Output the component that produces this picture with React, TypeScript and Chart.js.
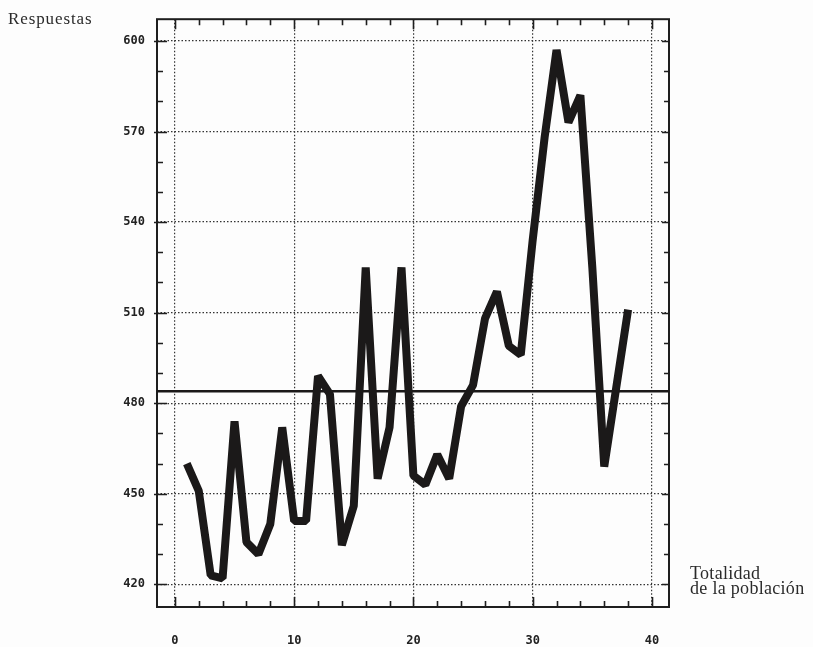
import { useEffect, useRef } from "react";
import { Chart, registerables } from "chart.js";

Chart.register(...registerables);

// Survey period index (x) and number of responses (y)
const periods = [
  1, 2, 3, 4, 5, 6, 7, 8, 9, 10, 11, 12, 13, 14, 15, 16, 17, 18, 19, 20,
  21, 22, 23, 24, 25, 26, 27, 28, 29, 30, 31, 32, 33, 34, 35, 36, 37, 38,
];
const responses = [
  460, 451, 423, 422, 474, 434, 430, 440, 472, 441, 441, 489, 483, 433, 446,
  525, 455, 472, 525, 456, 453, 463, 455, 479, 486, 508, 517, 499, 496, 534,
  568, 597, 573, 582, 525, 459, 485, 511,
];
// Whole-population reference level
const populationLevel = 484;

const xTickValues = [0, 10, 20, 30, 40];
const yTickValues = [420, 450, 480, 510, 540, 570, 600];
const xMinorTicks = [0, 2, 4, 6, 8, 10, 12, 14, 16, 18, 20, 22, 24, 26, 28, 30, 32, 34, 36, 38, 40];
const yMinorTicks = [420, 430, 440, 450, 460, 470, 480, 490, 500, 510, 520, 530, 540, 550, 560, 570, 580, 590, 600];

const X_MIN = -1.5;
const X_MAX = 41.43;
const Y_MIN = 412.5;
const Y_MAX = 607.2;

// Frame around the plot with inward-pointing tick marks on all four sides
const framePlugin = {
  id: "plotFrame",
  beforeDatasetsDraw(chart: any) {
    const { ctx, chartArea, scales } = chart;
    const { left, right, top, bottom } = chartArea;
    ctx.save();
    ctx.strokeStyle = "#1e1e1e";
    ctx.lineWidth = 2;
    ctx.strokeRect(left, top, right - left, bottom - top);
    ctx.lineWidth = 1.6;
    ctx.beginPath();
    for (const v of xMinorTicks) {
      const px = Math.round(scales.x.getPixelForValue(v)) + 0.5;
      const len = v % 10 === 0 ? 10 : 6;
      ctx.moveTo(px, bottom);
      ctx.lineTo(px, bottom - len);
      ctx.moveTo(px, top);
      ctx.lineTo(px, top + len);
    }
    for (const v of yMinorTicks) {
      const py = Math.round(scales.y.getPixelForValue(v)) + 0.5;
      const major = v % 30 === 0;
      ctx.moveTo(major ? left - 3 : left, py);
      ctx.lineTo(left + (major ? 10 : 6), py);
      ctx.moveTo(right, py);
      ctx.lineTo(right - (major ? 7 : 5), py);
    }
    ctx.stroke();
    ctx.restore();
  },
};

const tickFont = { family: "'DejaVu Sans Mono', monospace", size: 12, weight: "bold" as const };

export default function App() {
  const canvasRef = useRef<HTMLCanvasElement | null>(null);

  useEffect(() => {
    const canvas = canvasRef.current;
    if (!canvas) return;
    const chart = new Chart(canvas, {
      type: "line",
      data: {
        datasets: [
          {
            label: "Respuestas",
            data: periods.map((p, i) => ({ x: p, y: responses[i] })),
            borderColor: "#1b1919",
            borderWidth: 8,
            borderJoinStyle: "bevel",
            borderCapStyle: "butt",
            pointRadius: 0,
            tension: 0,
          },
          {
            label: "Totalidad de la población",
            data: [
              { x: X_MIN, y: populationLevel },
              { x: X_MAX, y: populationLevel },
            ],
            borderColor: "#1b1919",
            borderWidth: 2.5,
            pointRadius: 0,
          },
        ],
      },
      options: {
        animation: false,
        responsive: false,
        maintainAspectRatio: false,
        layout: { padding: { top: 10, right: 144, bottom: 0, left: 0 } },
        plugins: {
          legend: { display: false },
          tooltip: { enabled: false },
        },
        scales: {
          x: {
            type: "linear",
            min: X_MIN,
            max: X_MAX,
            afterBuildTicks: (scale: any) => {
              scale.ticks = xTickValues.map((v) => ({ value: v }));
            },
            afterFit: (scale: any) => {
              scale.height = 40;
            },
            grid: { color: "#333", lineWidth: 1.2, drawTicks: false },
            border: { display: false, dash: [1.5, 2] },
            ticks: {
              font: tickFont,
              color: "#222",
              padding: 27,
              maxRotation: 0,
              autoSkip: false,
              callback: (v: any) => String(v),
            },
          },
          y: {
            type: "linear",
            min: Y_MIN,
            max: Y_MAX,
            afterBuildTicks: (scale: any) => {
              scale.ticks = yTickValues.map((v) => ({ value: v }));
            },
            afterFit: (scale: any) => {
              scale.width = 157;
            },
            grid: { color: "#333", lineWidth: 1.2, drawTicks: false },
            border: { display: false, dash: [1.5, 2] },
            ticks: {
              font: tickFont,
              color: "#222",
              padding: 12,
              autoSkip: false,
              callback: (v: any) => String(v),
            },
          },
        },
      },
      plugins: [framePlugin],
    });
    return () => chart.destroy();
  }, []);

  const serif = "'Liberation Serif', 'DejaVu Serif', serif";

  return (
    <div
      style={{
        position: "fixed",
        left: 0,
        top: 0,
        width: 813,
        height: 647,
        background: "#fdfdfd",
        overflow: "hidden",
      }}
    >
      <canvas ref={canvasRef} width={813} height={647} style={{ display: "block" }} />
      <div
        style={{
          position: "absolute",
          left: 8,
          top: 10,
          fontFamily: serif,
          fontSize: 17,
          lineHeight: "17px",
          letterSpacing: "0.9px",
          color: "#2a2a2a",
        }}
      >
        Respuestas
      </div>
      <div
        style={{
          position: "absolute",
          left: 690,
          top: 566,
          fontFamily: serif,
          fontSize: 18,
          lineHeight: "15px",
          letterSpacing: "0.3px",
          color: "#2a2a2a",
          whiteSpace: "nowrap",
        }}
      >
        Totalidad
        <br />
        de la población
      </div>
    </div>
  );
}
